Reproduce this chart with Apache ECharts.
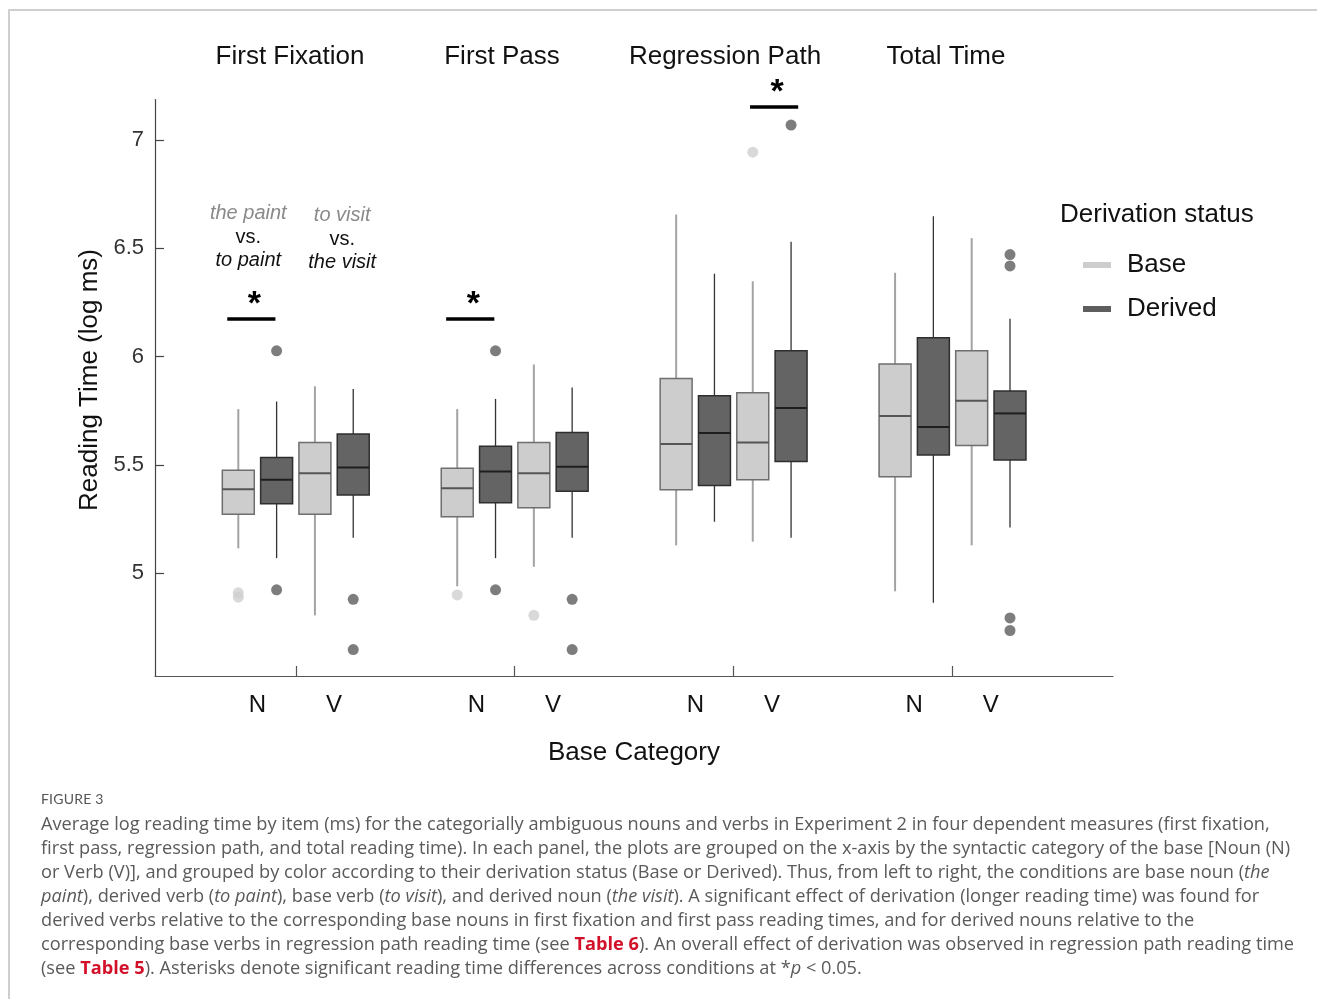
<!DOCTYPE html>
<html>
<head>
<meta charset="utf-8">
<script src="https://cdn.jsdelivr.net/npm/echarts@6/dist/echarts.min.js"></script>
<style>
  html, body { margin:0; padding:0; background:#fff; }
  #wrap { position:relative; width:1317px; height:999px; overflow:hidden; }
  #frame { position:absolute; left:8px; top:9px; right:0; bottom:0; border-top:2px solid #cfcfcf; border-left:2px solid #cfcfcf; }
  #chart { position:absolute; left:0; top:0; width:1317px; height:999px; }
  #figlabel { position:absolute; left:41px; top:790px; font-family:Lato, "Open Sans", sans-serif; font-size:14px; color:#555; letter-spacing:0.2px; }
  #caption { position:absolute; left:41px; top:811px; font-family:"Open Sans", Lato, sans-serif; font-size:18.2px; line-height:24px; color:#5a5a5a; white-space:nowrap; }
  #caption b { color:#d3102a; font-weight:700; }
</style>
</head>
<body>
<div id="wrap">
  <div id="frame"></div>
  <div id="chart"></div>
  <div id="figlabel">FIGURE 3</div>
  <div id="caption">Average log reading time by item (ms) for the categorially ambiguous nouns and verbs in Experiment 2 in four dependent measures (first fixation,<br>first pass, regression path, and total reading time). In each panel, the plots are grouped on the x-axis by the syntactic category of the base [Noun (N)<br>or Verb (V)], and grouped by color according to their derivation status (Base or Derived). Thus, from left to right, the conditions are base noun (<i>the</i><br><i>paint</i>), derived verb (<i>to paint</i>), base verb (<i>to visit</i>), and derived noun (<i>the visit</i>). A significant effect of derivation (longer reading time) was found for<br>derived verbs relative to the corresponding base nouns in first fixation and first pass reading times, and for derived nouns relative to the<br>corresponding base verbs in regression path reading time (see <b>Table 6</b>). An overall effect of derivation was observed in regression path reading time<br>(see <b>Table 5</b>). Asterisks denote significant reading time differences across conditions at *<i>p</i> &lt; 0.05.</div>
</div>
<script>
// ---------- data ----------
const measures = ['First Fixation', 'First Pass', 'Regression Path', 'Total Time'];
const baseCategories = ['N', 'V'];
const statuses = ['Base', 'Derived'];
const yTicks = [5, 5.5, 6, 6.5, 7];

// box order: FF-N, FF-V, FP-N, FP-V, RP-N, RP-V, TT-N, TT-V ; [min, q1, median, q3, max]
const baseBoxes = [
  [5.115, 5.273, 5.388, 5.476, 5.758],
  [4.806, 5.273, 5.462, 5.604, 5.863],
  [4.940, 5.261, 5.393, 5.485, 5.758],
  [5.030, 5.303, 5.462, 5.604, 5.964],
  [5.129, 5.386, 5.597, 5.899, 6.656],
  [5.146, 5.432, 5.604, 5.833, 6.348],
  [4.917, 5.446, 5.726, 5.966, 6.387],
  [5.129, 5.590, 5.796, 6.027, 6.547]
];
const derivedBoxes = [
  [5.070, 5.321, 5.432, 5.534, 5.793],
  [5.164, 5.361, 5.488, 5.643, 5.851],
  [5.070, 5.326, 5.470, 5.587, 5.805],
  [5.164, 5.379, 5.492, 5.650, 5.858],
  [5.238, 5.405, 5.648, 5.819, 6.383],
  [5.164, 5.516, 5.763, 6.027, 6.530],
  [4.864, 5.546, 5.675, 6.087, 6.648],
  [5.211, 5.523, 5.738, 5.842, 6.175]
];
const baseOutliers = [
  [4.91, 4.89], [], [4.90], [4.806], [], [6.944], [], []
];
const derivedOutliers = [
  [6.027, 4.924], [4.880, 4.648], [6.027, 4.924], [4.880, 4.648], [], [7.069], [], [6.471, 6.419, 4.794, 4.736]
];
// significant comparisons: [measure index, base category index, bar level]
const significance = [
  [0, 0, 6.174],
  [1, 0, 6.174],
  [2, 1, 7.152]
];
const noteTop = ['the paint', 'to visit'];
const noteMid = ['vs.', 'vs.'];
const noteBottom = ['to paint', 'the visit'];
const noteLevel = 6.548;

// ---------- layout (positions in group units) ----------
const slot = 0.175;           // distance between neighbouring boxes
const boxW = 0.146;
const offsets = { Base: [-1.5 * slot, 0.5 * slot], Derived: [-0.5 * slot, 1.5 * slot] };
const catOffset = [-slot, slot];
const noteOffset = [-0.217, 0.212];
const sigShift = [-0.028, 0.01];
const FONT = '"Liberation Sans", Arial, sans-serif';

function boxData(status, boxes) {
  return boxes.map((b, i) => {
    const g = Math.floor(i / 2), c = i % 2;
    return [g + offsets[status][c]].concat(b);
  });
}
function outlierData(status, outs) {
  const res = [];
  outs.forEach((arr, i) => {
    const g = Math.floor(i / 2), c = i % 2;
    arr.forEach(v => res.push([g + offsets[status][c], v]));
  });
  return res;
}

const styles = {
  Base:    { fill: '#cdcdcd', stroke: '#6e6e6e', whisker: '#a3a3a3', whiskerW: 2, median: '#555555', dot: '#cfcfcf' },
  Derived: { fill: '#646464', stroke: '#2e2e2e', whisker: '#333333', whiskerW: 1.3, median: '#1e1e1e', dot: '#5c5c5c' }
};

function makeBoxRender(st) {
  return function (params, api) {
    const x = api.value(0);
    const pLo = api.coord([x, api.value(1)]);
    const pQ1 = api.coord([x, api.value(2)]);
    const pMed = api.coord([x, api.value(3)]);
    const pQ3 = api.coord([x, api.value(4)]);
    const pHi = api.coord([x, api.value(5)]);
    const w = api.size([boxW, 0])[0];
    const cx = pMed[0];
    return {
      type: 'group',
      children: [
        { type: 'line', shape: { x1: cx, y1: pHi[1], x2: cx, y2: pQ3[1] }, style: { stroke: st.whisker, lineWidth: st.whiskerW } },
        { type: 'line', shape: { x1: cx, y1: pQ1[1], x2: cx, y2: pLo[1] }, style: { stroke: st.whisker, lineWidth: st.whiskerW } },
        { type: 'rect', shape: { x: cx - w / 2, y: pQ3[1], width: w, height: pQ1[1] - pQ3[1] }, style: { fill: st.fill, stroke: st.stroke, lineWidth: 1.5 } },
        { type: 'line', shape: { x1: cx - w / 2, y1: pMed[1], x2: cx + w / 2, y2: pMed[1] }, style: { stroke: st.median, lineWidth: 2 } }
      ]
    };
  };
}

const xLabelPos = [], xLabelText = [];
measures.forEach((m, g) => baseCategories.forEach((c, ci) => { xLabelPos.push(g + catOffset[ci]); xLabelText.push(c); }));

const titleX = [290, 502, 725, 946];

const chart = echarts.init(document.getElementById('chart'));
chart.setOption({
  animation: false,
  textStyle: { fontFamily: FONT },
  grid: { left: 155, right: 204, top: 99.5, bottom: 323, containLabel: false },
  xAxis: {
    type: 'value', min: -0.643, max: 3.733,
    name: 'Base Category', nameLocation: 'middle', nameGap: 64,
    nameTextStyle: { fontSize: 26, color: '#111', fontFamily: FONT },
    axisLine: { show: true, onZero: false, lineStyle: { color: '#555', width: 1.2 } },
    axisTick: { show: true, inside: true, length: 10, customValues: [0, 1, 2, 3], lineStyle: { color: '#555', width: 1.2 } },
    axisLabel: {
      customValues: xLabelPos, margin: 17, fontSize: 24, color: '#111', fontFamily: FONT,
      formatter: v => {
        let best = 0;
        xLabelPos.forEach((p, i) => { if (Math.abs(p - v) < Math.abs(xLabelPos[best] - v)) best = i; });
        return xLabelText[best];
      }
    },
    splitLine: { show: false }
  },
  yAxis: {
    type: 'value', min: 4.526, max: 7.187,
    axisLine: { show: true, onZero: false, lineStyle: { color: '#444', width: 1.2 } },
    axisTick: { show: true, inside: true, length: 9, customValues: yTicks, lineStyle: { color: '#444', width: 1.2 } },
    axisLabel: { customValues: yTicks, margin: 11, fontSize: 22, color: '#333', fontFamily: FONT, formatter: v => String(v) },
    splitLine: { show: false }
  },
  legend: {
    orient: 'vertical', left: 1083, top: 252,
    itemWidth: 28, itemHeight: 6, itemGap: 18, padding: 0,
    textStyle: { fontSize: 26, color: '#111', fontFamily: FONT, padding: [0, 0, 0, 11] },
    data: [
      { name: 'Base', icon: 'rect', itemStyle: { color: '#cdcdcd' } },
      { name: 'Derived', icon: 'rect', itemStyle: { color: '#5e5e5e' } }
    ]
  },
  graphic: measures.map((m, i) => ({
    type: 'text', x: titleX[i], y: 57,
    style: { text: m, font: '26px ' + FONT, fill: '#111', textAlign: 'center', textVerticalAlign: 'middle' }
  })).concat([
    { type: 'text', x: 1060, y: 215, style: { text: 'Derivation status', font: '26px ' + FONT, fill: '#111', textAlign: 'left', textVerticalAlign: 'middle' } },
    { type: 'text', x: 90, y: 380, rotation: Math.PI / 2, style: { text: 'Reading Time (log ms)', font: '26px ' + FONT, fill: '#111', textAlign: 'center', textVerticalAlign: 'middle' } }
  ]),
  series: [
    {
      name: 'Base', type: 'custom', renderItem: makeBoxRender(styles.Base),
      itemStyle: { color: '#cdcdcd' },
      encode: { x: 0, y: [1, 2, 3, 4, 5] },
      data: boxData('Base', baseBoxes), z: 2
    },
    {
      name: 'Derived', type: 'custom', renderItem: makeBoxRender(styles.Derived),
      itemStyle: { color: '#5e5e5e' },
      encode: { x: 0, y: [1, 2, 3, 4, 5] },
      data: boxData('Derived', derivedBoxes), z: 2
    },
    {
      name: 'Base', type: 'scatter', symbol: 'circle', symbolSize: 11,
      itemStyle: { color: styles.Base.dot }, data: outlierData('Base', baseOutliers), z: 3
    },
    {
      name: 'Derived', type: 'scatter', symbol: 'circle', symbolSize: 11,
      itemStyle: { color: styles.Derived.dot }, data: outlierData('Derived', derivedOutliers), z: 3
    },
    {
      name: 'significance', type: 'custom', clip: false, silent: true,
      encode: { x: 0, y: 1 },
      data: significance.map(s => [s[0] + catOffset[s[1]] + sigShift[s[1]], s[2]]),
      renderItem: function (params, api) {
        const p = api.coord([api.value(0), api.value(1)]);
        const half = api.size([0.11, 0])[0];
        return {
          type: 'group', children: [
            { type: 'line', shape: { x1: p[0] - half, y1: p[1], x2: p[0] + half, y2: p[1] }, style: { stroke: '#000', lineWidth: 3.5 } },
            { type: 'text', x: p[0] + 3, y: p[1] - 14, style: { text: '*', font: 'bold 34px ' + FONT, fill: '#000', textAlign: 'center', textVerticalAlign: 'middle' } }
          ]
        };
      }
    },
    {
      name: 'notes', type: 'custom', clip: false, silent: true,
      encode: { x: 0, y: 1 },
      data: baseCategories.map((c, ci) => [noteOffset[ci], noteLevel]),
      renderItem: function (params, api) {
        const i = params.dataIndex;
        const p = api.coord([api.value(0), api.value(1)]);
        const dy = i === 0 ? 0 : 2;
        const f = '20px ' + FONT;
        return {
          type: 'group', children: [
            { type: 'text', x: p[0], y: p[1] - 25 + dy, style: { text: noteTop[i], font: 'italic ' + f, fill: '#8a8a8a', textAlign: 'center', textVerticalAlign: 'middle' } },
            { type: 'text', x: p[0], y: p[1] + dy, style: { text: noteMid[i], font: f, fill: '#111', textAlign: 'center', textVerticalAlign: 'middle' } },
            { type: 'text', x: p[0], y: p[1] + 22 + dy, style: { text: noteBottom[i], font: 'italic ' + f, fill: '#111', textAlign: 'center', textVerticalAlign: 'middle' } }
          ]
        };
      }
    }
  ]
});
</script>
</body>
</html>
